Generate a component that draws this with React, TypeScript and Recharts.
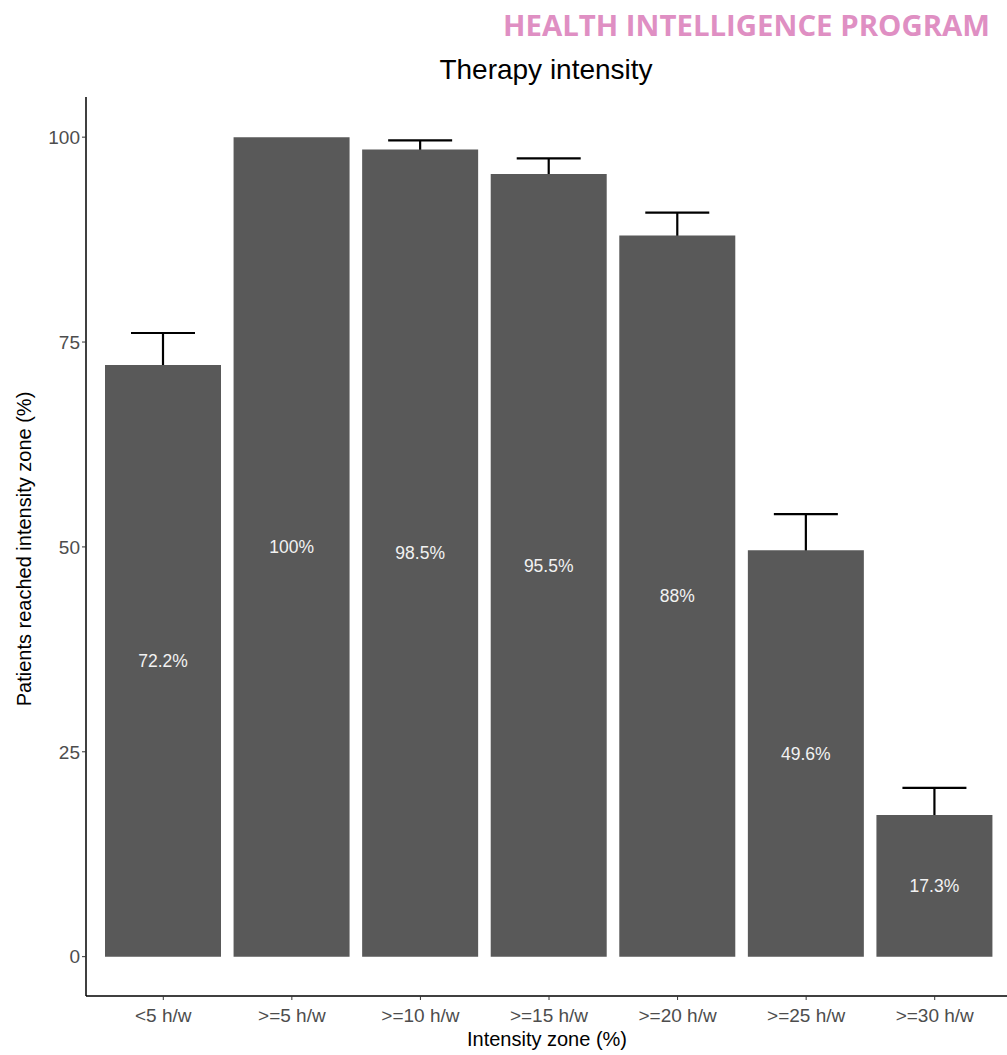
import { BarChart, Bar, XAxis, YAxis, ErrorBar, LabelList } from 'recharts'

const zones = ['<5 h/w', '>=5 h/w', '>=10 h/w', '>=15 h/w', '>=20 h/w', '>=25 h/w', '>=30 h/w']
const reached = [72.2, 100, 98.5, 95.5, 88, 49.6, 17.3]
// symmetric errors, lower half sits behind the bars like in ggplot
const errors = [3.9, null, 1.1, 1.9, 2.8, 4.4, 3.3]
const yTicks = [0, 25, 50, 75, 100]

const data = zones.map((zone, i) => ({ zone, reached: reached[i], err: errors[i] }))

const font = 'Liberation Sans, Arial, sans-serif'
const tickStyle = { fill: '#4d4d4d', fontSize: 19, fontFamily: font }
const chartMargin = { top: 97, right: 0, bottom: 29, left: 26 }
const yDomain = [-4.8, 104.9]
const layer = { position: 'absolute' as const, left: 0, top: 0 }

export default function App() {
  return (
    <div
      style={{
        position: 'absolute',
        left: 0,
        top: 0,
        width: 1007,
        height: 1055,
        overflow: 'hidden',
        background: '#fff',
        fontFamily: font,
      }}
    >
      <svg width={1007} height={50} style={layer}>
        <text
          x={990}
          y={36}
          textAnchor="end"
          textLength={487}
          lengthAdjust="spacingAndGlyphs"
          fill="#df8fc3"
          fontFamily="Open Sans, sans-serif"
          fontWeight={700}
          fontSize={28}
        >
          HEALTH INTELLIGENCE PROGRAM
        </text>
      </svg>
      <div
        style={{
          position: 'absolute',
          left: 0,
          width: 1092,
          top: 54,
          textAlign: 'center',
          fontSize: 28,
          color: '#000',
        }}
      >
        Therapy intensity
      </div>
      <div
        style={{
          position: 'absolute',
          left: 0,
          width: 1094,
          top: 1028,
          textAlign: 'center',
          fontSize: 20,
          color: '#000',
        }}
      >
        Intensity zone (%)
      </div>
      <div
        style={{
          position: 'absolute',
          left: 24,
          top: 549,
          transform: 'translate(-50%, -50%) rotate(-90deg)',
          whiteSpace: 'nowrap',
          fontSize: 20,
          color: '#000',
        }}
      >
        Patients reached intensity zone (%)
      </div>

      {/* error bars underneath */}
      <div style={layer}>
        <BarChart width={1012} height={1055} data={data} margin={chartMargin}>
          <XAxis
            dataKey="zone"
            height={30}
            padding={{ left: 13, right: 13 }}
            axisLine={false}
            tickLine={false}
            tick={false}
          />
          <YAxis width={60} domain={yDomain} ticks={yTicks} axisLine={false} tickLine={false} tick={false} />
          <Bar dataKey="reached" fill="none" barSize={116} isAnimationActive={false}>
            <ErrorBar dataKey="err" width={32} stroke="#000" strokeWidth={2.2} direction="y" />
          </Bar>
        </BarChart>
      </div>

      {/* bars, axes and labels on top */}
      <div style={layer}>
        <BarChart width={1012} height={1055} data={data} margin={chartMargin}>
          <XAxis
            dataKey="zone"
            height={30}
            padding={{ left: 13, right: 13 }}
            axisLine={{ stroke: '#000', strokeWidth: 1.5 }}
            tickLine={{ stroke: '#333' }}
            tickSize={4}
            tickMargin={9}
            tick={tickStyle}
            interval={0}
          />
          <YAxis
            width={60}
            domain={yDomain}
            ticks={yTicks}
            axisLine={{ stroke: '#000', strokeWidth: 1.5 }}
            tickLine={{ stroke: '#333' }}
            tickSize={4}
            tick={tickStyle}
          />
          <Bar dataKey="reached" fill="#595959" barSize={116} isAnimationActive={false}>
            <LabelList
              dataKey="reached"
              position="center"
              formatter={(v: number) => `${v}%`}
              fill="#f2f2f2"
              fontSize={17.5}
              fontFamily={font}
            />
          </Bar>
        </BarChart>
      </div>
    </div>
  )
}
